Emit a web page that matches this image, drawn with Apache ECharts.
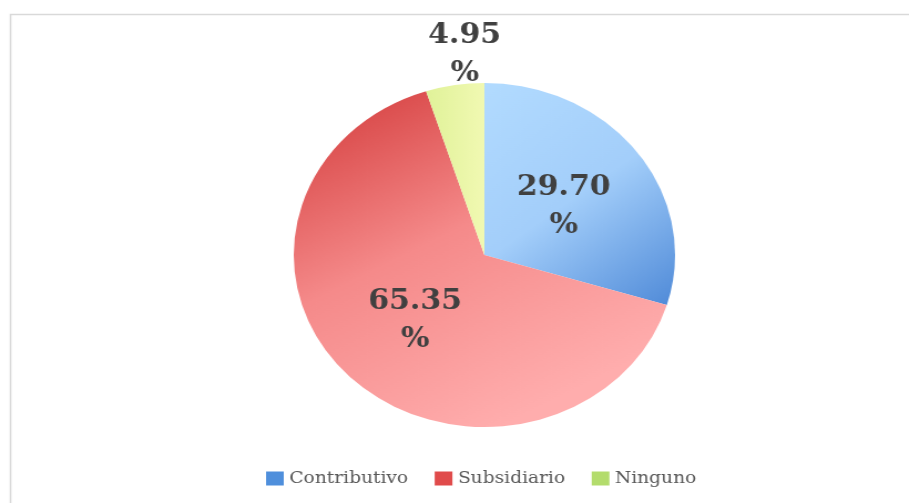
<!DOCTYPE html>
<html>
<head>
<meta charset="utf-8">
<script src="https://cdn.jsdelivr.net/npm/echarts@6/dist/echarts.min.js"></script>
<style>
html,body{margin:0;padding:0;background:#fff;overflow:hidden;}
#wrap{width:909px;height:503px;overflow:hidden;}
#chart{width:820px;height:503px;transform:scaleX(1.1085);transform-origin:0 0;}
</style>
</head>
<body>
<div id="wrap"><div id="chart"></div></div>
<script>
const categories = ['Contributivo', 'Subsidiario', 'Ninguno'];
const values = [29.70, 65.35, 4.95];

const fills = [
  {type:'linear',x:0,y:0,x2:1,y2:1,colorStops:[{offset:0,color:'#b2dbff'},{offset:0.5,color:'#a3cefa'},{offset:1,color:'#4f8ad8'}]},
  {type:'linear',x:0,y:0,x2:0.55,y2:1,colorStops:[{offset:0,color:'#d23838'},{offset:0.5,color:'#f58a8a'},{offset:1,color:'#ffadad'}]},
  {type:'linear',x:0,y:0,x2:1,y2:0,colorStops:[{offset:0,color:'#e0f299'},{offset:1,color:'#f1f9b2'}]}
];
const legendColors = ['#4f8fdc', '#e04b4b', '#b3dc6c'];
const labelOffsets = [[0,5],[0,3],[-4,-112]];

const chart = echarts.init(document.getElementById('chart'), null, {renderer:'canvas'});
chart.setOption({
  animation:false,
  backgroundColor:'#ffffff',
  graphic:[{type:'rect',shape:{x:9.5,y:14.5,width:840,height:500},style:{fill:'none',stroke:'#d9d9d9',lineWidth:1.5},silent:true,z:-1}],
  legend:{
    left:235, top:465, itemWidth:16, itemHeight:14, itemGap:24, icon:'rect',
    textStyle:{fontFamily:'DejaVu Serif', fontSize:16.8, color:'#595959'},
    data: categories.map((c,i)=>({name:c, itemStyle:{color:legendColors[i]}}))
  },
  series:[{
    type:'pie',
    center:[437,255],
    radius:[0,172],
    startAngle:90,
    clockwise:true,
    label:{
      position:'inside',
      fontFamily:'DejaVu Serif', fontWeight:'bold', fontSize:27, lineHeight:38, color:'#404040',
      formatter:p=>p.value.toFixed(2)+'\n%'
    },
    labelLine:{show:false},
    emphasis:{disabled:true},
    data: categories.map((c,i)=>({name:c, value:values[i], itemStyle:{color:fills[i]}, label:{offset:labelOffsets[i]}}))
  }]
});
</script>
</body>
</html>
